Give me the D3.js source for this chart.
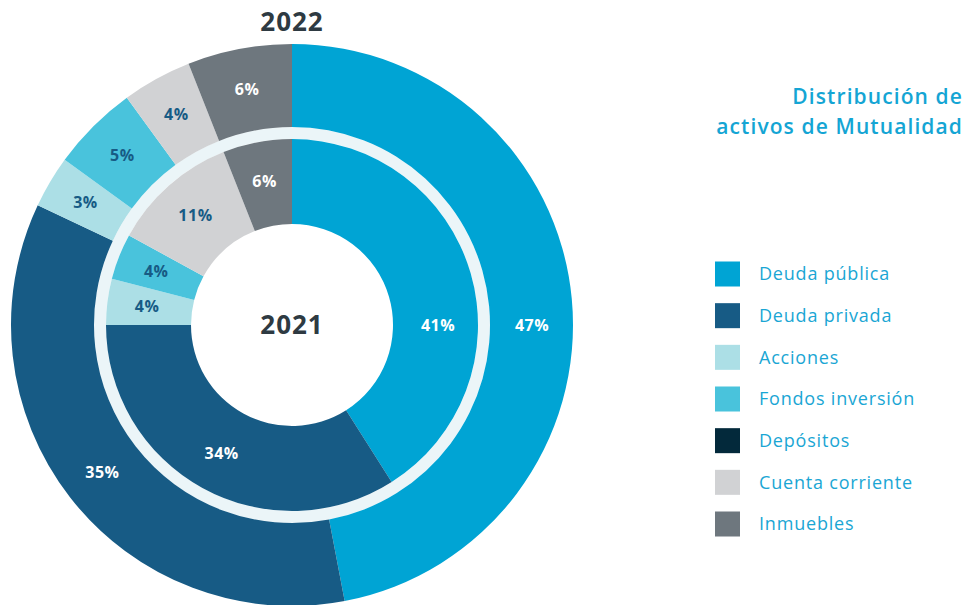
<!DOCTYPE html>
<html>
<head>
<meta charset="utf-8">
<script src="https://cdn.jsdelivr.net/npm/d3@7"></script>
<style>
  body { margin: 0; background: #fff; }
  svg { display: block; font-family: 'Open Sans', sans-serif; }
</style>
</head>
<body>
<div class="chart"></div>
<script>
const categories = ['Deuda pública','Deuda privada','Acciones','Fondos inversión','Depósitos','Cuenta corriente','Inmuebles']
const values2022 = [47, 35, 3, 5, 0, 4, 6]
const values2021 = [41, 34, 4, 4, 0, 11, 6]
const colors = ['#00a4d4','#175b85','#acdfe6','#49c3dc','#03293b','#d1d2d4','#6e777e']
const labelColors = ['#fff','#fff','#175b85','#175b85','#fff','#175b85','#fff']
const titleLines = ['Distribución de','activos de Mutualidad']

let w = 971,
    h = 605,
    cx = 292,
    cy = 325

const svg = d3.select('.chart')
              .append('svg')
              .attr('width', w)
              .attr('height', h)

const color = d3.scaleOrdinal().domain(categories).range(colors)
const labelColor = d3.scaleOrdinal().domain(categories).range(labelColors)

const pie = d3.pie().sort(null).value((d) => d.v)

const g = svg.append('g').attr('transform', `translate(${cx},${cy})`)

// pale ring between the two years
g.append('path')
 .attr('d', d3.arc().innerRadius(186).outerRadius(198).startAngle(0).endAngle(2*Math.PI)())
 .attr('fill', '#ebf5f8')

// slices that cover 3 o'clock get their label put there
const labelAngle = (d) => {
  const mid = (d.startAngle + d.endAngle) / 2
  if (d.startAngle <= Math.PI/2 && d.endAngle >= Math.PI/2) return Math.PI/2
  return mid
}

const drawRing = (values, r0, r1, rl) => {
  const data = pie(categories.map((c, i) => ({c: c, v: values[i]})))
  const arc = d3.arc().innerRadius(r0).outerRadius(r1)
  const ring = g.append('g')
  ring.selectAll('path')
      .data(data)
      .enter()
      .append('path')
      .attr('d', arc)
      .attr('fill', (d) => color(d.data.c))
  ring.selectAll('text')
      .data(data.filter((d) => d.data.v > 0))
      .enter()
      .append('text')
      .attr('transform', (d) => {
        const a = labelAngle(d)
        return `translate(${rl*Math.sin(a)},${-rl*Math.cos(a)})`
      })
      .attr('text-anchor', 'middle')
      .attr('dy', '0.35em')
      .attr('font-size', 16)
      .attr('font-weight', 700)
      .attr('letter-spacing', 0.5)
      .attr('fill', (d) => labelColor(d.data.c))
      .text((d) => d.data.v + '%')
}

drawRing(values2022, 198, 281, 240)
drawRing(values2021, 101, 186, 146)

svg.append('text')
   .attr('x', cx)
   .attr('y', 22)
   .attr('dy', '0.35em')
   .attr('text-anchor', 'middle')
   .attr('font-size', 26)
   .attr('font-weight', 700)
   .attr('letter-spacing', 1)
   .attr('fill', '#2e3a42')
   .text('2022')

svg.append('text')
   .attr('x', cx)
   .attr('y', cy)
   .attr('dy', '0.35em')
   .attr('text-anchor', 'middle')
   .attr('font-size', 26)
   .attr('font-weight', 700)
   .attr('letter-spacing', 1)
   .attr('fill', '#2e3a42')
   .text('2021')

svg.selectAll('.title')
   .data(titleLines)
   .enter()
   .append('text')
   .attr('class', 'title')
   .attr('x', 963)
   .attr('y', (d, i) => 97 + i*30)
   .attr('dy', '0.35em')
   .attr('text-anchor', 'end')
   .attr('font-size', 21)
   .attr('font-weight', 600)
   .attr('letter-spacing', 1.1)
   .attr('fill', '#14a5d4')
   .text((d) => d)

const legendY = d3.scalePoint().domain(categories).range([274, 524])

const legend = svg.append('g').attr('id', 'legend')
legend.selectAll('rect')
      .data(categories)
      .enter()
      .append('rect')
      .attr('x', 715)
      .attr('y', (d) => legendY(d) - 12.5)
      .attr('width', 25)
      .attr('height', 25)
      .attr('fill', (d) => color(d))
legend.selectAll('text')
      .data(categories)
      .enter()
      .append('text')
      .attr('x', 759)
      .attr('y', (d) => legendY(d))
      .attr('dy', '0.35em')
      .attr('font-size', 18)
      .attr('letter-spacing', 0.8)
      .attr('fill', '#1aa6d4')
      .text((d) => d)
</script>
</body>
</html>
